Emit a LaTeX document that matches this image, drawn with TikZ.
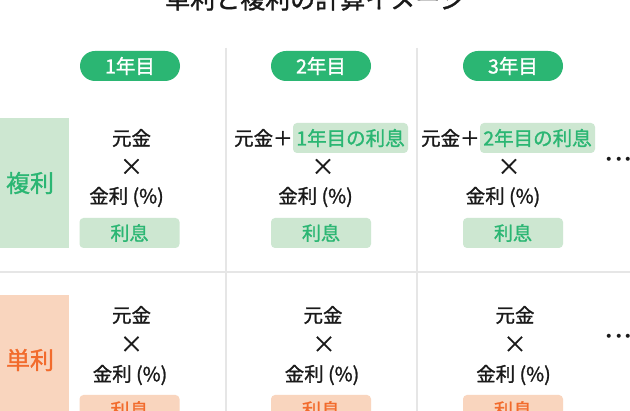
\documentclass[tikz,border=0pt]{standalone}
\usepackage{fontspec}
\setmainfont{Noto Sans CJK JP}
\newfontfamily\jpmed[FakeBold=1.3]{Noto Sans CJK JP}
\definecolor{kgreen}{HTML}{2BB673}
\definecolor{lgreen}{HTML}{CDE7D1}
\definecolor{korange}{HTML}{F26B2C}
\definecolor{lorange}{HTML}{F9D5BE}
\definecolor{gline}{HTML}{E6E6E6}
\definecolor{ktext}{HTML}{1A1A1A}
\tikzset{
  pill/.style={fill=kgreen, text=white, rounded corners=15pt, minimum width=100pt, minimum height=30pt, inner sep=0pt, font=\fontsize{19.5}{19.5}\selectfont\jpmed},
  sidebox/.style={minimum width=78pt, minimum height=130pt, inner sep=0pt, font=\fontsize{24}{24}\selectfont\jpmed},
  ftext/.style={text=ktext, inner sep=0pt, font=\fontsize{19.5}{19.5}\selectfont\jpmed},
  times/.style={text=ktext, inner sep=0pt, font=\fontsize{23}{23}\selectfont\jpmed},
  resbox/.style={rounded corners=4pt, minimum width=100pt, minimum height=30pt, inner sep=0pt, font=\fontsize{19}{19}\selectfont\jpmed},
  hlbox/.style={fill=lgreen, text=kgreen, rounded corners=4pt, minimum width=115pt, minimum height=30pt, inner sep=0pt, font=\fontsize{19.5}{19.5}\selectfont\jpmed},
  dots/.style={text=ktext, inner sep=0pt, anchor=west, font=\fontsize{19}{19}\selectfont\bfseries},
  divider/.style={draw=gline, line width=1.2pt}
}
\begin{document}
\begin{tikzpicture}[x=1pt,y=-1pt]
\useasboundingbox (0,0) rectangle (630,411);
\clip (0,0) rectangle (630,411);
\fill[white] (0,0) rectangle (630,411);
% title
\node[text=ktext, inner sep=0pt, font=\fontsize{25}{25}\selectfont\jpmed] (title) at (315,-1) {単利と複利の計算イメージ};
% dividers
\coordinate (v1t) at (226,48); \coordinate (v1b) at (226,411);
\coordinate (v2t) at (417,48); \coordinate (v2b) at (417,411);
\coordinate (hl) at (0,272); \coordinate (hr) at (630,272);
\draw[divider] (v1t) -- (v1b);
\draw[divider] (v2t) -- (v2b);
\draw[divider] (hl) -- (hr);
% year pills
\node[pill] (y1) at (130,66) {1年目};
\node[pill] (y2) at (321,66) {2年目};
\node[pill] (y3) at (513,66) {3年目};
% side labels
\node[sidebox, fill=lgreen, text=kgreen] (fukuri) at (30,183) {複利};
\node[sidebox, fill=lorange, text=korange] (tanri) at (30,360) {単利};
% compound row
\node[ftext] (a1) at (131.5,138) {元金};
\node[hlbox] (h2) at (350.5,138) {1年目の利息};
\node[ftext, anchor=east] (a2) at (h2.west) {元金＋};
\node[hlbox] (h3) at (537.5,138) {2年目の利息};
\node[ftext, anchor=east] (a3) at (h3.west) {元金＋};
\node[times] (m1) at (131.5,167) {×};
\node[times] (m2) at (323,167) {×};
\node[times] (m3) at (509,167) {×};
\node[ftext] (r1) at (126.5,197) {金利 (\%)};
\node[ftext] (r2) at (315.5,197) {金利 (\%)};
\node[ftext] (r3) at (503,197) {金利 (\%)};
\node[resbox, fill=lgreen, text=kgreen] (i1) at (129.5,233) {利息};
\node[resbox, fill=lgreen, text=kgreen] (i2) at (321,233) {利息};
\node[resbox, fill=lgreen, text=kgreen] (i3) at (513,233) {利息};
\node[dots] (d1) at (604.5,162) {･･･};
% simple row
\node[ftext] (b1) at (131.5,315) {元金};
\node[ftext] (b2) at (323,315) {元金};
\node[ftext] (b3) at (515,315) {元金};
\node[times] (n1) at (131.5,344.5) {×};
\node[times] (n2) at (324,344.5) {×};
\node[times] (n3) at (515,344.5) {×};
\node[ftext] (s1) at (130,375) {金利 (\%)};
\node[ftext] (s2) at (322,375) {金利 (\%)};
\node[ftext] (s3) at (513.5,375) {金利 (\%)};
\node[resbox, fill=lorange, text=korange] (j1) at (129.5,410) {利息};
\node[resbox, fill=lorange, text=korange] (j2) at (321,410) {利息};
\node[resbox, fill=lorange, text=korange] (j3) at (513,410) {利息};
\node[dots] (d2) at (604.5,339) {･･･};
\end{tikzpicture}
\end{document}
